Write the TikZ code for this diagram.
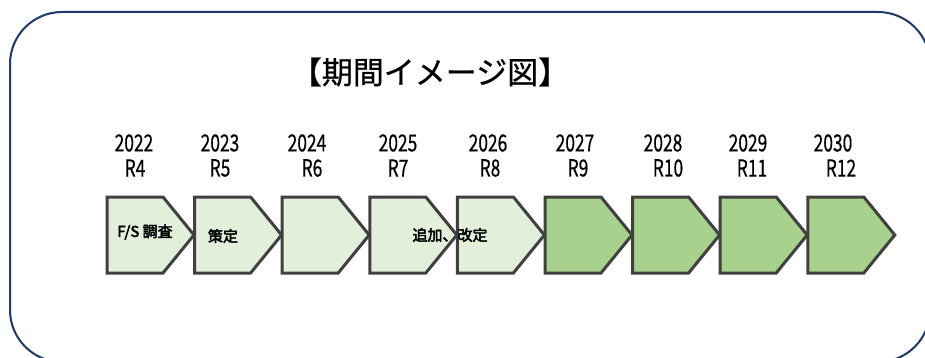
\documentclass[tikz,border=0pt]{standalone}
\usepackage{fontspec}
\setmainfont{Noto Sans CJK JP}
\newfontfamily\boldcjk[FakeBold=3]{Noto Sans CJK JP}
\newfontfamily\yrfont[FakeBold=0.6]{Noto Sans CJK JP}
\definecolor{framec}{HTML}{1F3868}
\definecolor{chevline}{HTML}{404040}
\definecolor{lightg}{HTML}{E2EFDA}
\definecolor{darkg}{HTML}{A9D18E}
\begin{document}
\begin{tikzpicture}[x=1pt,y=-1pt,
  chev/.style={draw=chevline, line width=3pt, line join=miter},
  yr/.style={font=\yrfont\fontsize{23.5}{23.5}\selectfont, inner sep=0pt, text=black},
  lbl/.style={font=\boldcjk\fontsize{15}{15}\selectfont, inner sep=0pt, text=black}]
\useasboundingbox (0,0) rectangle (925,358);
\clip (0,0) rectangle (925,358);
\draw[framec, line width=2pt, rounded corners=52pt] (10,12) rectangle (930,362);
\node[font=\yrfont\fontsize{31}{31}\selectfont, inner sep=0pt] (title) at (430,72) {【期間イメージ図】};
\foreach \i/\fc in {0/lightg,1/lightg,2/lightg,3/lightg,4/lightg,5/darkg,6/darkg,7/darkg,8/darkg} {
  \pgfmathsetmacro\L{107+87.6*\i}
  \draw[chev, fill=\fc] (\L,197) -- ++(56,0) -- ++(31,38) -- ++(-31,38) -- ++(-56,0) -- cycle;
}
\foreach \n/\yx/\ryx/\yr/\rr in {1/134/135/2022/R4, 2/220/220/2023/R5, 3/307/312/2024/R6, 4/398/398/2025/R7, 5/488/490/2026/R8, 6/575/578/2027/R9, 7/663/668/2028/R10, 8/748/752/2029/R11, 9/833/841/2030/R12} {
  \node[yr] (y\n) at (\yx,143) {\scalebox{0.74}[1]{\yr}};
  \node[yr] (r\n) at (\ryx,168) {\scalebox{0.74}[1]{\rr}};
}
\node[lbl] (fs) at (145,232) {F/S 調査};
\node[lbl] (sak) at (223,236) {策定};
\node[lbl] (kai) at (450,235) {追加、改定};
\end{tikzpicture}
\end{document}
